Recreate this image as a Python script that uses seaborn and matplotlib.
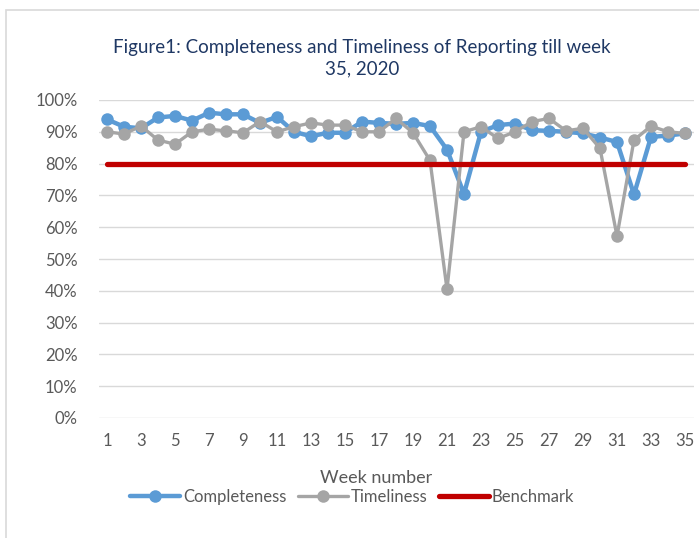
import matplotlib
matplotlib.use("Agg")
import matplotlib.pyplot as plt
import seaborn as sns
import pandas as pd
import numpy as np
from matplotlib.lines import Line2D
from matplotlib.patches import Rectangle
from matplotlib.ticker import PercentFormatter

weeks = list(range(1, 36))
completeness = [93.9, 91.6, 91.1, 94.5, 95.0, 93.5, 96.0, 95.5, 95.5, 92.8,
                94.7, 90.0, 88.6, 89.7, 89.7, 93.2, 92.8, 92.5, 92.8, 91.8,
                84.4, 70.5, 90.0, 92.1, 92.6, 90.5, 90.3, 90.0, 89.5, 88.2,
                86.8, 70.3, 88.4, 88.8, 89.5]
timeliness = [90.0, 89.3, 91.8, 87.4, 86.1, 90.0, 90.8, 90.3, 89.7, 93.2,
              90.0, 91.6, 92.8, 92.1, 92.1, 90.0, 90.0, 94.2, 89.7, 81.0,
              40.5, 90.0, 91.6, 87.9, 90.0, 93.2, 94.2, 90.3, 91.1, 84.8,
              57.2, 87.4, 91.8, 90.0, 89.5]
benchmark = [80.0] * 35
tick_weeks = list(range(1, 36, 2))
y_ticks = list(range(0, 101, 10))
title = "Figure1: Completeness and Timeliness of Reporting till week\n35, 2020"

sns.set_theme(style="white")
plt.rcParams['font.family'] = ['Lato', 'DejaVu Sans']

df = pd.DataFrame({"Week": weeks, "Completeness": completeness,
                   "Timeliness": timeliness, "Benchmark": benchmark})

W, H = 699, 538
fig = plt.figure(figsize=(W / 100, H / 100), dpi=100)
ax = fig.add_axes([98.5 / W, (H - 418) / H, (693.5 - 98.5) / W, 318 / H])

c_blue, c_gray, c_red = "#5B9BD5", "#A5A5A5", "#C00000"
sns.lineplot(data=df, x="Week", y="Completeness", ax=ax, color=c_blue, lw=3.2,
             marker="o", markersize=9, markeredgewidth=0, zorder=3)
sns.lineplot(data=df, x="Week", y="Timeliness", ax=ax, color=c_gray, lw=2.4,
             marker="o", markersize=9, markeredgewidth=0, zorder=4)
sns.lineplot(data=df, x="Week", y="Benchmark", ax=ax, color=c_red, lw=3.8,
             zorder=5, solid_capstyle="round")

ax.set_xlim(0.5, 35.5)
ax.set_ylim(0, 100)
ax.set_yticks(y_ticks)
ax.yaxis.set_major_formatter(PercentFormatter(decimals=0))
ax.set_xticks(tick_weeks)
ax.grid(axis="y", color="#D9D9D9", lw=1)
ax.grid(axis="x", visible=False)
for s in ax.spines.values():
    s.set_visible(False)
ax.tick_params(axis="both", length=0, labelsize=12, labelcolor="#595959")
ax.tick_params(axis="y", pad=15)
ax.tick_params(axis="x", pad=11)
ax.set_xlabel("Week number", fontsize=13, color="#595959")
ax.xaxis.set_label_coords((376 - 98.5) / 595, -(478 - 418) / 318)
ax.xaxis.label.set_va("center")
ax.set_ylabel("")

fig.text(362 / W, 1 - 58 / H, title, ha="center", va="center", fontsize=13.5,
         color="#1F3864", linespacing=1.35)

handles = [
    Line2D([], [], color=c_blue, lw=3.2, marker="o", markersize=9, markeredgewidth=0),
    Line2D([], [], color=c_gray, lw=2.4, marker="o", markersize=9, markeredgewidth=0),
    Line2D([], [], color=c_red, lw=3.8, solid_capstyle="round"),
]
fig.legend(handles, ["Completeness", "Timeliness", "Benchmark"], ncol=3,
           loc="center", bbox_to_anchor=(352 / W, 1 - 497 / H), frameon=False,
           fontsize=12, labelcolor="#595959", handlelength=3.0,
           handletextpad=0.15, columnspacing=0.7, markerscale=1.0)

fig.add_artist(Rectangle((6 / W, -0.02), 1.0, (H - 10) / H + 0.02,
                         transform=fig.transFigure, fill=False,
                         edgecolor="#D9D9D9", lw=1.2))

fig.savefig("out.png", dpi=100, facecolor="white")
